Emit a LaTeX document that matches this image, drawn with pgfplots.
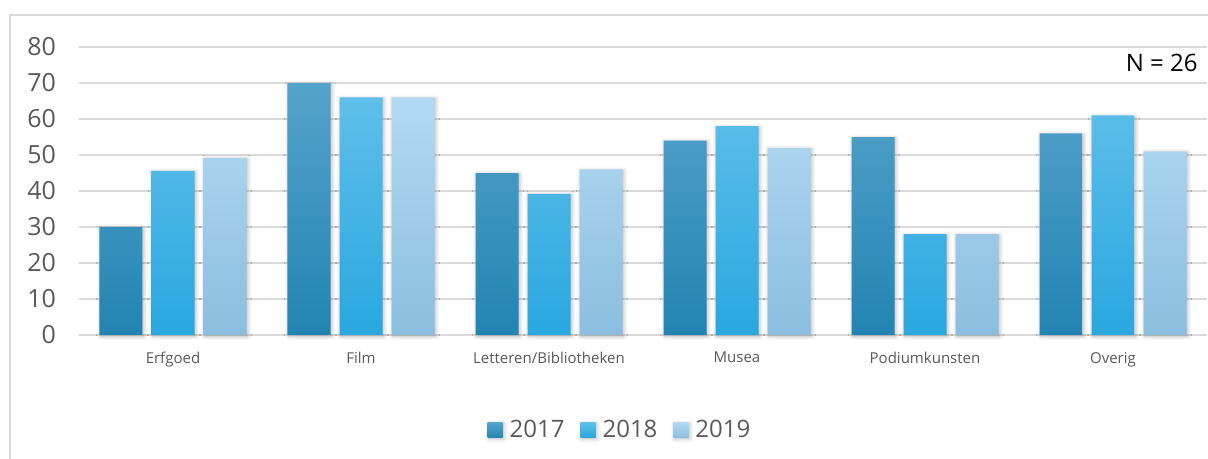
\documentclass[border=0pt]{standalone}
\usepackage{pgfplots}
\pgfplotsset{compat=1.18}
\usepackage{fontspec}
\setmainfont{Open Sans}
\usetikzlibrary{shadows.blur}

\definecolor{gridgray}{HTML}{D9D9D9}
\definecolor{txtgray}{HTML}{595959}
\definecolor{aTop}{HTML}{55A3CA}
\definecolor{aBot}{HTML}{2284B2}
\definecolor{bTop}{HTML}{5FBFEA}
\definecolor{bBot}{HTML}{29A7DF}
\definecolor{cTop}{HTML}{B2DAF3}
\definecolor{cBot}{HTML}{8BBEDF}

\begin{document}
\begin{tikzpicture}
\begin{axis}[
    scale only axis,
    width=564pt,
    height=144pt,
    ybar=4.5pt,
    bar width=21.5pt,
    xmin=-0.5, xmax=5.5,
    ymin=0, ymax=80,
    xtick=data,
    xticklabels={Erfgoed,Film,Letteren/Bibliotheken,Musea,Podiumkunsten,Overig},
    ytick={0,10,...,80},
    major tick length=0pt,
    axis x line*=bottom,
    axis y line*=left,
    y axis line style={draw=none},
    x axis line style={gridgray, line width=1pt},
    ymajorgrids,
    grid style={gridgray, line width=1pt},
    xticklabel style={font=\fontsize{7.5}{9}\selectfont, text=txtgray, yshift=-5pt},
    yticklabel style={font=\fontsize{12.5}{14}\selectfont, text=txtgray, xshift=-8pt},
    /pgf/number format/assume math mode=true,
    clip=false,
    every axis plot/.append style={draw=none, blur shadow={shadow xshift=0.6pt, shadow yshift=-0.6pt, shadow blur radius=2pt, shadow opacity=30}},
    legend style={
        at={(0.4805,-0.33)},
        anchor=center,
        draw=none,
        fill=none,
        legend columns=3,
        font=\fontsize{12}{14}\selectfont,
        text=txtgray,
        /tikz/every odd column/.append style={column sep=1.5pt},
        /tikz/every even column/.append style={column sep=6pt},
    },
    legend image code/.code={
        \path[#1, draw=none] (0pt,-3.8pt) rectangle (7.5pt,3.7pt);
    },
]

\addplot[top color=aTop, bottom color=aBot] coordinates {(0,30) (1,70) (2,45) (3,54) (4,55) (5,56)};
\addlegendentry{2017}

\addplot[top color=bTop, bottom color=bBot] coordinates {(0,45.6) (1,66) (2,39.2) (3,58) (4,28) (5,61)};
\addlegendentry{2018}

\addplot[top color=cTop, bottom color=cBot] coordinates {(0,49.2) (1,66) (2,46) (3,52) (4,28) (5,51)};
\addlegendentry{2019}

\end{axis}
\node[anchor=east, inner sep=0pt, font=\fontsize{12}{14}\selectfont] at (559.5pt,136pt) {N = 26};
\draw[gridgray, line width=1pt] (-34.5pt,-62pt) -- (-34.5pt,160pt) -- (564.5pt,160pt);
\pgfresetboundingbox
\useasboundingbox (-39.5pt,-62pt) rectangle (564.5pt,167.5pt);
\end{tikzpicture}
\end{document}
